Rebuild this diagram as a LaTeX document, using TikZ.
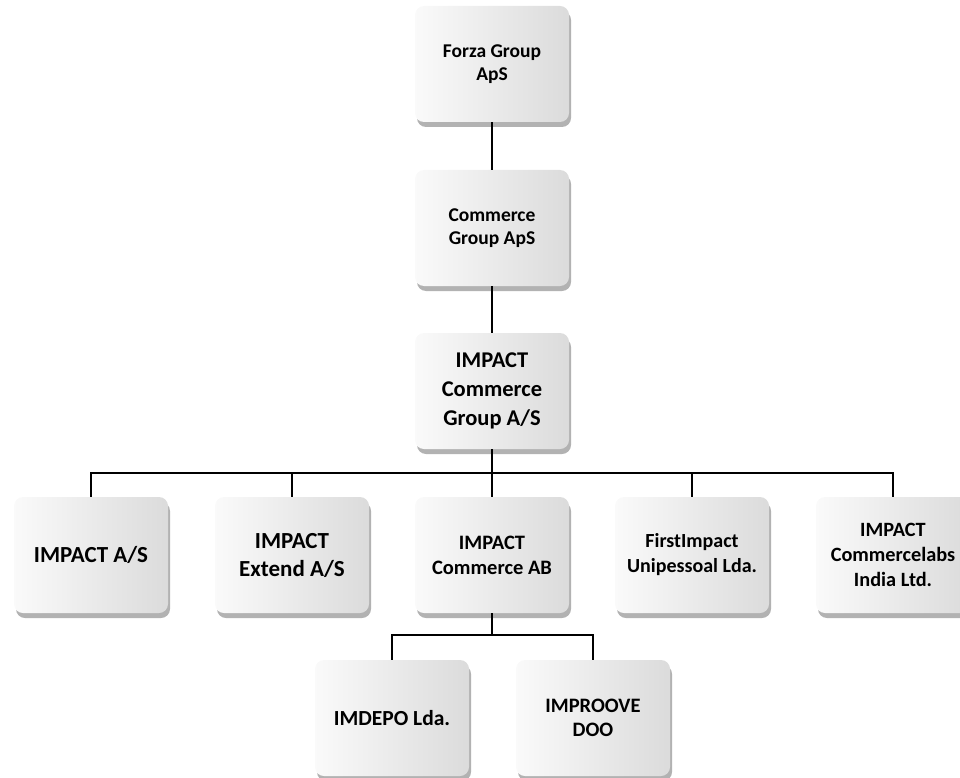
\documentclass[tikz,border=0pt]{standalone}
\usepackage{fontspec}
\setmainfont{Carlito}
\usetikzlibrary{shadows}
\tikzset{
  orgbox/.style={draw=none, rounded corners=9pt, minimum width=154pt, minimum height=116pt,
    align=center, text=black,
    left color=gray!4, right color=gray!28,
    drop shadow={shadow xshift=2pt, shadow yshift=-5pt, fill=black, opacity=0.3}},
  fs/.style 2 args={font=\bfseries\fontsize{#1}{#2}\selectfont},
  conn/.style={line width=1.8pt, black},
  busline/.style={line width=1.5pt, black}
}
\begin{document}
\begin{tikzpicture}[x=1pt,y=-1pt]
\useasboundingbox (0,0) rectangle (960,778);
\node[orgbox, fs={19.5}{23}] (forza) at (492,64) {Forza Group\\ApS};
\node[orgbox, fs={19.5}{23}] (cg) at (492,228) {Commerce\\Group ApS};
\node[orgbox, fs={22.5}{29}] (icg) at (492,391) {IMPACT\\Commerce\\Group A/S};
\node[orgbox, fs={23}{28}] (b1) at (91,555) {IMPACT A/S};
\node[orgbox, fs={23}{28}] (b2) at (292,555) {IMPACT\\Extend A/S};
\node[orgbox, fs={20.5}{25}] (b3) at (492,555) {IMPACT\\Commerce AB};
\node[orgbox, fs={20}{25}] (b4) at (692,555) {FirstImpact\\Unipessoal Lda.};
\node[orgbox, fs={20.3}{25}] (b5) at (893,555) {IMPACT\\Commercelabs\\India Ltd.};
\node[orgbox, fs={21.5}{26}] (s1) at (392,718) {IMDEPO Lda.};
\node[orgbox, fs={20.5}{24}] (s2) at (593,718) {IMPROOVE\\DOO};
\coordinate (bus) at (492,473);
\coordinate (sbus) at (492,635);
\draw[conn] (forza.south) -- (cg.north);
\draw[conn] (cg.south) -- (icg.north);
\draw[conn] (icg.south) -- (bus);
\draw[busline] (b1.north) |- (bus) -| (b5.north);
\draw[busline] (b2.north) -- (b2.north |- bus);
\draw[busline] (b3.north) -- (bus);
\draw[busline] (b4.north) -- (b4.north |- bus);
\draw[conn] (b3.south) -- (sbus);
\draw[conn] (s1.north) |- (sbus) -| (s2.north);
\end{tikzpicture}
\end{document}
